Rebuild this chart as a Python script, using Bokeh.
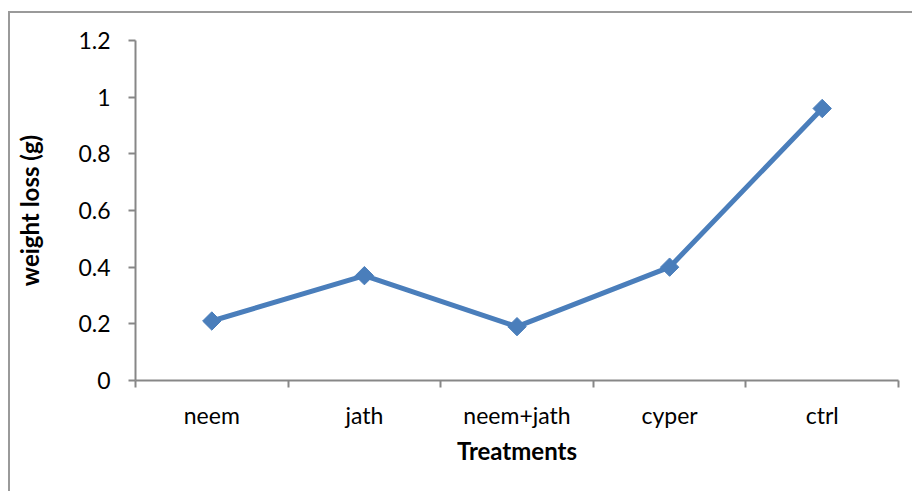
import math
from bokeh.plotting import figure
from bokeh.models import Range1d, FixedTicker
from bokeh.embed import file_html
from bokeh.resources import INLINE

categories = ["neem", "jath", "neem+jath", "cyper", "ctrl"]
weight_loss = [0.21, 0.37, 0.19, 0.40, 0.96]
y_ticks = [0, 0.2, 0.4, 0.6, 0.8, 1, 1.2]
y_tick_labels = ["0", "0.2", "0.4", "0.6", "0.8", "1", "1.2"]

FONT = "Lato"
AXIS_COLOR = "#878787"
LINE_COLOR = "#4A7EBB"
BORDER_COLOR = "#9A9A9A"

x_pos = [i + 0.5 for i in range(len(categories))]

# the chart box starts 8px from the left and 11px from the top of the window,
# with a 2px grey border; its right and bottom edges lie outside the window
p = figure(width=904, height=480, output_backend="svg", toolbar_location=None,
           x_range=Range1d(0, len(categories)), y_range=Range1d(0, 1.2),
           min_border_left=125, min_border_right=16, min_border_top=27,
           min_border_bottom=113)
p.styles = {"margin-left": "8px", "margin-top": "11px",
            "border-left": f"2px solid {BORDER_COLOR}",
            "border-top": f"2px solid {BORDER_COLOR}"}
p.outline_line_color = None
p.xgrid.visible = False
p.ygrid.visible = False
p.background_fill_color = "white"
p.border_fill_color = "white"

p.line(x_pos, weight_loss, line_color=LINE_COLOR, line_width=5)
p.scatter(x_pos, weight_loss, marker="square", angle=math.pi / 4, size=13,
          fill_color=LINE_COLOR, line_color=LINE_COLOR)

# x axis
xa = p.xaxis[0]
xa.ticker = FixedTicker(ticks=x_pos, minor_ticks=list(range(len(categories) + 1)))
xa.major_label_overrides = {x: c for x, c in zip(x_pos, categories)}
xa.major_tick_line_color = None
xa.major_tick_out = 0
xa.major_tick_in = 0
xa.minor_tick_line_color = AXIS_COLOR
xa.minor_tick_line_width = 2
xa.minor_tick_out = 7
xa.minor_tick_in = 0
xa.axis_line_color = AXIS_COLOR
xa.axis_line_width = 2
xa.major_label_text_font = FONT
xa.major_label_text_font_size = "23px"
xa.major_label_text_color = "black"
xa.major_label_standoff = 13
xa.axis_label = "Treatments"
xa.axis_label_text_font = FONT
xa.axis_label_text_font_style = "bold"
xa.axis_label_text_font_size = "24px"
xa.axis_label_text_color = "black"
xa.axis_label_standoff = 4

# y axis
ya = p.yaxis[0]
ya.ticker = FixedTicker(ticks=y_ticks, minor_ticks=[])
ya.major_label_overrides = {t: l for t, l in zip(y_ticks, y_tick_labels)}
ya.major_tick_line_color = AXIS_COLOR
ya.major_tick_line_width = 2
ya.major_tick_out = 7
ya.major_tick_in = 0
ya.minor_tick_line_color = None
ya.axis_line_color = AXIS_COLOR
ya.axis_line_width = 2
ya.major_label_text_font = FONT
ya.major_label_text_font_size = "23px"
ya.major_label_text_color = "black"
ya.major_label_standoff = 18
ya.axis_label = "weight loss (g)"
ya.axis_label_text_font = FONT
ya.axis_label_text_font_style = "bold"
ya.axis_label_text_font_size = "24px"
ya.axis_label_text_color = "black"
ya.axis_label_standoff = 31

open("out.html", "w").write(file_html(p, INLINE))
